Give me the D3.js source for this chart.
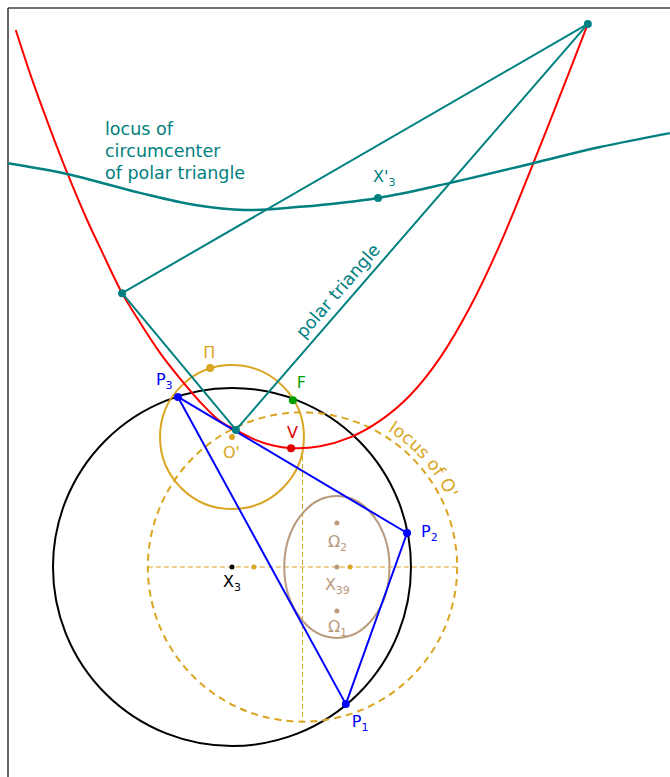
<!DOCTYPE html>
<html>
<head>
<meta charset="utf-8">
<script src="https://cdn.jsdelivr.net/npm/d3@7"></script>
<style>
  body { margin: 0; background: #fff; }
  svg { display: block; }
  text { font-family: "DejaVu Sans", Verdana, sans-serif; font-size: 16px; }
  .note { font-size: 17.5px; }
</style>
</head>
<body>
<div id="chart"></div>
<script>

    // all coordinates in "circle units": circumcircle centred at X3 = (0,0), radius 5
    const circumcircle = { cx: 0, cy: 0, r: 5 };
    const triangle = [[3.18, -3.83], [4.89, 0.95], [-1.51, 4.75]];      // P1, P2, P3
    const polarTriangle = [[-3.07, 7.65], [9.94, 15.17], [0.11, 3.83]];
    const circumcenterPolar = [4.08, 10.31];                              // X'3
    const focus = [1.70, 4.66];                                           // F
    const vertex = [1.65, 3.32];                                          // V
    const oPrime = { cx: 0, cy: 3.63, r: 2.01 };                          // O' and its circle
    const pi = [-0.61, 5.56];
    const locusO = { cx: 1.97, cy: 0, r: 4.32 };
    const locusDots = [[0.61, 0], [3.30, 0]];
    const ellipse = { cx: 2.93, cy: 0, rx: 1.47, ry: 1.98 };
    const omegas = [[2.93, 1.23], [2.93, 0], [2.93, -1.23]];             // Omega2, X39, Omega1

    // red parabola
    const parabola = [
        [-6.04, 15.0], [-5.56, 13.55], [-5.08, 12.24], [-4.58, 10.95], [-4.05, 9.70],
        [-3.60, 8.74], [-3.07, 7.65], [-2.57, 6.83], [-2.01, 5.98], [-1.45, 5.26],
        [-0.89, 4.61], [-0.34, 4.08], [0.11, 3.83], [0.64, 3.56], [1.12, 3.40],
        [1.65, 3.32], [2.46, 3.37], [3.30, 3.62], [4.13, 4.08], [4.97, 4.79],
        [5.81, 5.84], [6.65, 7.26], [7.49, 9.02], [8.41, 11.26], [9.16, 13.16],
        [9.94, 15.17]
    ];

    // teal locus of circumcenter of polar triangle
    const circLocus = [
        [-6.26, 11.28], [-4.61, 10.98], [-2.57, 10.45], [-1.03, 10.11], [0.36, 9.97],
        [1.90, 10.06], [4.08, 10.31], [6.09, 10.73], [8.41, 11.28], [10.28, 11.73], [12.23, 12.12]
    ];

    const W = 670, H = 777;
    const x = d3.scaleLinear().domain([-6.48, 12.235]).range([0, W]);
    const y = d3.scaleLinear().domain([15.838, -5.866]).range([0, H]);
    const k = x(1) - x(0);

    const svg = d3.select("#chart").append("svg").attr("width", W).attr("height", H);

    // frame
    svg.append("line").attr("x1", 8).attr("y1", 8).attr("x2", W).attr("y2", 8)
        .attr("stroke", "#707070").attr("stroke-width", 2);
    svg.append("line").attr("x1", 8).attr("y1", 8).attr("x2", 8).attr("y2", H)
        .attr("stroke", "#333").attr("stroke-width", 1.5);

    const GOLD = "#daa520", TEAL = "#008080", BLUE = "#0000ff", TAN = "#b89a7c";

    // circumcircle
    svg.append("circle").attr("cx", x(circumcircle.cx)).attr("cy", y(circumcircle.cy))
        .attr("r", circumcircle.r * k).attr("fill", "none").attr("stroke", "#000").attr("stroke-width", 2);

    // locus of O' with its axes
    svg.append("circle").attr("cx", x(locusO.cx)).attr("cy", y(locusO.cy))
        .attr("r", locusO.r * k).attr("fill", "none").attr("stroke", GOLD)
        .attr("stroke-width", 2).attr("stroke-dasharray", "7,5");
    svg.append("line").attr("x1", x(locusO.cx - locusO.r)).attr("x2", x(locusO.cx + locusO.r))
        .attr("y1", y(0)).attr("y2", y(0))
        .attr("stroke", GOLD).attr("stroke-width", 1).attr("stroke-dasharray", "5,3");
    svg.append("line").attr("x1", x(locusO.cx)).attr("x2", x(locusO.cx))
        .attr("y1", y(3.10)).attr("y2", y(locusO.cy - locusO.r))
        .attr("stroke", GOLD).attr("stroke-width", 1).attr("stroke-dasharray", "5,3");

    // tan ellipse
    svg.append("ellipse").attr("cx", x(ellipse.cx)).attr("cy", y(ellipse.cy))
        .attr("rx", ellipse.rx * k).attr("ry", ellipse.ry * k)
        .attr("fill", "none").attr("stroke", TAN).attr("stroke-width", 2);

    // circle around O'
    svg.append("circle").attr("cx", x(oPrime.cx)).attr("cy", y(oPrime.cy))
        .attr("r", oPrime.r * k).attr("fill", "none").attr("stroke", GOLD).attr("stroke-width", 2);

    const line = d3.line().x(d => x(d[0])).y(d => y(d[1])).curve(d3.curveCatmullRom);

    svg.append("path").attr("d", line(parabola)).attr("fill", "none")
        .attr("stroke", "#ff0000").attr("stroke-width", 2);
    svg.append("path").attr("d", line(circLocus)).attr("fill", "none")
        .attr("stroke", TEAL).attr("stroke-width", 2.5);

    const closed = d3.line().x(d => x(d[0])).y(d => y(d[1]));
    svg.append("path").attr("d", closed(polarTriangle) + "Z").attr("fill", "none")
        .attr("stroke", TEAL).attr("stroke-width", 2).attr("stroke-linejoin", "round");
    svg.append("path").attr("d", closed(triangle) + "Z").attr("fill", "none")
        .attr("stroke", BLUE).attr("stroke-width", 2).attr("stroke-linejoin", "round");

    // dots
    function dot(p, r, color) {
        svg.append("circle").attr("cx", x(p[0])).attr("cy", y(p[1])).attr("r", r).attr("fill", color);
    }
    locusDots.forEach(p => dot(p, 2.5, GOLD));
    omegas.forEach(p => dot(p, 2.5, TAN));
    dot([0, 0], 2.5, "#000");
    dot([oPrime.cx, oPrime.cy], 3, GOLD);
    dot(pi, 4, GOLD);
    polarTriangle.forEach(p => dot(p, 4, TEAL));
    dot(circumcenterPolar, 4, TEAL);
    triangle.forEach(p => dot(p, 4, BLUE));
    dot(focus, 4, "#00a000");
    dot(vertex, 4, "#e00000");

    // labels: main text, subscript, prime, anchor point, pixel offset
    function label(main, sub, p, dx, dy, color, prime) {
        const t = svg.append("text").attr("x", x(p[0]) + dx).attr("y", y(p[1]) + dy).attr("fill", color);
        t.append("tspan").text(main);
        if (prime) t.append("tspan").text("'");
        if (sub) t.append("tspan").attr("font-size", 11).attr("dy", 4).text(sub);
        return t;
    }
    label("P", "1", triangle[0], 6, 23, BLUE);
    label("P", "2", triangle[1], 14, 4, BLUE);
    label("P", "3", triangle[2], -22, -12, BLUE);
    label("F", null, focus, 4, -12, "#00a000");
    label("V", null, vertex, -4, -10, "#e00000");
    label("O'", null, [oPrime.cx, oPrime.cy], -9, 21, GOLD);
    label("Π", null, pi, -7, -10, GOLD);
    label("X", "3", [0, 0], -9, 20, "#000");
    label("X", "3", circumcenterPolar, -5, -16, TEAL, true);
    label("Ω", "2", omegas[0], -9, 24, TAN);
    label("X", "39", omegas[1], -12, 23, TAN);
    label("Ω", "1", omegas[2], -9, 21, TAN);

    // caption of the teal locus
    const cap = svg.append("text").attr("class", "note").attr("x", 105).attr("y", 135).attr("fill", TEAL);
    ["locus of", "circumcenter", "of polar triangle"].forEach((s, i) => {
        cap.append("tspan").attr("x", 105).attr("dy", i ? 22 : 0).text(s);
    });

    // "polar triangle" along the side C-B
    const c = polarTriangle[2], b = polarTriangle[1];
    const ang = Math.atan2(y(b[1]) - y(c[1]), x(b[0]) - x(c[0])) * 180 / Math.PI;
    const tx = x(c[0]) + 0.32 * (x(b[0]) - x(c[0])), ty = y(c[1]) + 0.32 * (y(b[1]) - y(c[1]));
    svg.append("text").attr("class", "note")
        .attr("transform", `translate(${tx},${ty}) rotate(${ang}) translate(0,-8)`)
        .attr("text-anchor", "middle").attr("fill", TEAL).text("polar triangle");

    // "locus of O'" along the dashed circle
    const rr = locusO.r * k + 6, cx0 = x(locusO.cx), cy0 = y(locusO.cy);
    const a0 = -58 * Math.PI / 180, a1 = 10 * Math.PI / 180;
    svg.append("path").attr("id", "arcO").attr("fill", "none")
        .attr("d", `M${cx0 + rr * Math.cos(a0)},${cy0 + rr * Math.sin(a0)} A${rr},${rr} 0 0 1 ${cx0 + rr * Math.cos(a1)},${cy0 + rr * Math.sin(a1)}`);
    svg.append("text").attr("class", "note").attr("fill", GOLD)
        .append("textPath").attr("href", "#arcO").text("locus of O'");

</script>
</body>
</html>
